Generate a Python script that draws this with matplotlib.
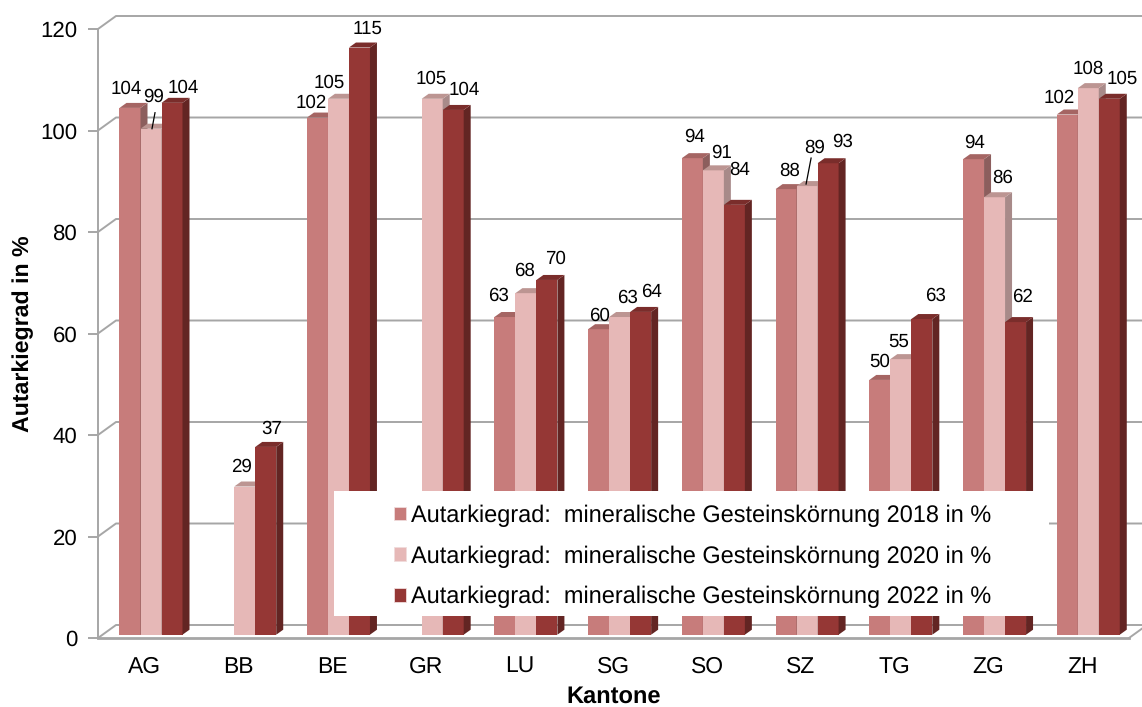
import matplotlib
matplotlib.use("Agg")
import matplotlib.pyplot as plt
from matplotlib.patches import Patch, Rectangle

plt.rcParams["font.family"] = ["Liberation Sans", "DejaVu Sans"]
plt.rcParams["text.hinting"] = "no_hinting"
plt.rcParams["text.hinting_factor"] = 8

kantone = ["AG", "BB", "BE", "GR", "LU", "SG", "SO", "SZ", "TG", "ZG", "ZH"]
werte_2018 = [103.8, None, 101.9, None, 62.6, 60.2, 93.9, 87.8, 50.2, 93.7, 102.5]
werte_2020 = [99.7, 29.2, 105.6, 105.6, 67.3, 62.6, 91.5, 88.4, 54.3, 86.2, 107.7]
werte_2022 = [104.8, 37.0, 115.7, 103.4, 69.9, 63.6, 84.7, 92.9, 62.2, 61.6, 105.6]
labels_2018 = [104, None, 102, None, 63, 60, 94, 88, 50, 94, 102]
labels_2020 = [99, 29, 105, 105, 68, 63, 91, 89, 55, 86, 108]
labels_2022 = [104, 37, 115, 104, 70, 64, 84, 93, 63, 62, 105]
legend_labels = [
    "Autarkiegrad:  mineralische Gesteinskörnung 2018 in %",
    "Autarkiegrad:  mineralische Gesteinskörnung 2020 in %",
    "Autarkiegrad:  mineralische Gesteinskörnung 2022 in %",
]
y_ticks = [0, 20, 40, 60, 80, 100, 120]

# front, side, top colour per series
colors = [
    ("#C77C7B", "#8C5E5D", "#A56563"),
    ("#E6B8B7", "#A88A89", "#BC9592"),
    ("#953735", "#632523", "#7A2D2B"),
]
grid_color = "#A6A6A6"

W, H = 1142, 707
fig = plt.figure(figsize=(W / 100, H / 100), dpi=100)
ax = fig.add_axes([98 / W, (H - 638) / H, (1129 - 98) / W, (638 - 29) / H])
ax.set_xlim(0, 11)
ax.set_ylim(0, 120)

px_x = 11 / (1129 - 98)  # data units per pixel
px_y = 120 / (638 - 29)

# back wall and floor
wall_x = 18 * px_x
wall_y = 13 * px_y
for t in y_ticks:
    ax.plot([0, wall_x, 11.2], [t, t + wall_y, t + wall_y], color=grid_color, lw=1.4,
            clip_on=False, zorder=1)
ax.plot([11, 11 + wall_x], [0, wall_y], color=grid_color, lw=1.4, clip_on=False, zorder=1)

# bars, painted left to right so the side faces get covered
bar_w = 21 * px_x
start = 21.5 * px_x
lift = 3.3 * px_y
depth_x = 7 * px_x
depth_y = 5 * px_y
series = [werte_2018, werte_2020, werte_2022]
for i in range(len(kantone)):
    for s, vals in enumerate(series):
        v = vals[i]
        if v is None:
            continue
        x0 = i + start + s * bar_w
        x1 = x0 + bar_w
        top = v + lift
        front, side, roof = colors[s]
        ax.bar(x0, v, bar_w, bottom=lift, align="edge", color=front, zorder=2)
        ax.fill([x1, x1 + depth_x, x1 + depth_x, x1],
                [lift, lift + depth_y, top + depth_y, top], color=side, lw=0, zorder=2)
        ax.fill([x0, x0 + depth_x, x1 + depth_x, x1],
                [top, top + depth_y, top + depth_y, top], color=roof, lw=0, zorder=2)

# label offsets in pixels from the bar top
offsets = [
    [(-4, 19), (3, 32), (11, 15)],
    [None, (-3, 20), (6, 18)],
    [(-6.5, 15), (-9.5, 16), (8.5, 19)],
    [None, (-1, 20), (11, 20)],
    [(-6, 21), (-1, 22), (9, 21)],
    [(1, 13), (8, 19), (11, 20)],
    [(2.5, 21), (8.5, 17), (5.5, 35)],
    [(4, 18), (8, 38), (14, 21)],
    [(0, 18), (-2, 17), (14, 23)],
    [(1, 16), (8, 19), (7, 25)],
    [(-8.5, 17), (0, 19), (12.5, 20)],
]
label_series = [labels_2018, labels_2020, labels_2022]
for i in range(len(kantone)):
    for s, labs in enumerate(label_series):
        if labs[i] is None:
            continue
        xc = i + start + (s + 0.5) * bar_w
        top = series[s][i] + lift
        ax.annotate(str(labs[i]), (xc, top), xytext=offsets[i][s], textcoords="offset pixels",
                    ha="center", va="center", fontsize=13.5, color="black", zorder=6,
                    annotation_clip=False)

# leader lines for the two labels sitting away from their bars
leaders = [(0, (1, 0), (4, 16)), (7, (-1, 2), (4, 28))]
for i, a, b in leaders:
    xc = i + start + 1.5 * bar_w
    top = werte_2020[i] + lift
    ax.plot([xc + a[0] * px_x, xc + b[0] * px_x], [top + a[1] * px_y, top + b[1] * px_y],
            color="black", lw=0.9, zorder=6)

ax.set_xticks([i + 0.5 for i in range(len(kantone))])
ax.set_xticklabels(kantone, fontsize=16.5)
ax.set_yticks(y_ticks)
ax.tick_params(axis="x", length=0, pad=13)
ax.tick_params(axis="y", length=7, width=1.4, color=grid_color, labelsize=16, pad=8)
for side in ["top", "right"]:
    ax.spines[side].set_visible(False)
ax.spines["left"].set_color(grid_color)
ax.spines["left"].set_linewidth(1.4)
ax.spines["bottom"].set_color(grid_color)
ax.spines["bottom"].set_linewidth(2)
ax.patch.set_alpha(0)

ax.set_xlabel("Kantone", fontsize=17, fontweight="bold", labelpad=6)
ax.set_ylabel("Autarkiegrad in %", fontsize=16.7, fontweight="bold", labelpad=4.5)

# white legend box over the bars
fig.add_artist(Rectangle((334 / W, (H - 616) / H), (1049 - 334) / W, (616 - 491) / H,
                         transform=fig.transFigure, color="white", lw=0, zorder=5))
handles = [Patch(facecolor=c[0], edgecolor="#F0DCDC", lw=0.6) for c in colors]
leg = fig.legend(handles, legend_labels, loc="upper left", bbox_to_anchor=(394 / W, (H - 504.5) / H),
                 frameon=False, fontsize=16.95, borderpad=0, borderaxespad=0,
                 handlelength=0.52, handleheight=0.52, handletextpad=0.22, labelspacing=0.78)
leg.set_zorder(6)

fig.savefig("out.png", dpi=100)
